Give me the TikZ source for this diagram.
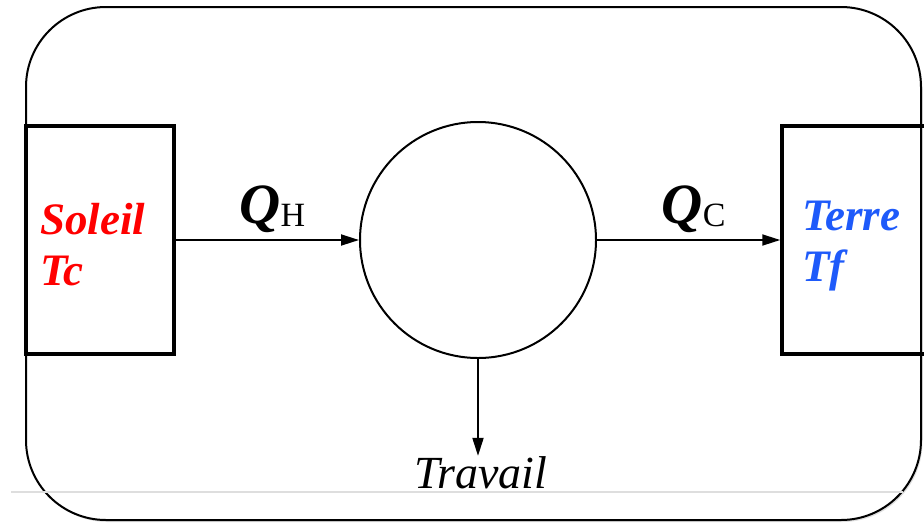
\documentclass[tikz,border=0pt]{standalone}
\usepackage{fontspec}
\setmainfont{Liberation Serif}
\usetikzlibrary{positioning,arrows.meta,shadows}
\definecolor{solred}{RGB}{255,0,0}
\definecolor{terblue}{RGB}{30,90,250}
\definecolor{filet}{RGB}{222,222,222}
\tikzset{
  cadre/.style={line width=2pt,rounded corners=80pt,fill=white,drop shadow={shadow xshift=1.5pt,shadow yshift=-2pt,opacity=0.25}},
  bloc/.style={draw=black,line width=3.5pt,minimum height=228pt,align=left},
  moteur/.style={draw,circle,line width=2pt,minimum size=236pt,inner sep=0pt},
  fleche/.style={line width=1.8pt,-{Triangle[length=18pt,width=11pt]}},
  qlab/.style={anchor=base,yshift=17pt,xshift=5pt,inner sep=0pt},
  blab/.style={font=\fontsize{45}{51}\selectfont\bfseries\itshape},
  tlab/.style={font=\fontsize{46}{50}\selectfont\itshape}
}
\newcommand{\qflux}[1]{{\fontsize{57}{57}\selectfont\bfseries\itshape Q}\raisebox{-3pt}{\fontsize{34}{34}\selectfont #1}}

\begin{document}
\begin{tikzpicture}[x=1pt,y=-1pt]
    \clip (0,0) rectangle (924,523);
    \draw[cadre] (26,7) rectangle (921,520);
    \draw[filet,line width=1.2pt] (11,492) -- (903,492);
    \node[bloc,blab,text=solred,inner sep=14pt,text width=120pt,minimum width=148pt] (soleil) at (100,240) {\rule{0pt}{41pt}Soleil\\Tc};
    \node[bloc,blab,text=terblue,inner sep=20pt,text width=138pt,minimum width=178pt] (terre) at (871,240) {\rule{0pt}{41pt}Terre\\Tf};
    \node[moteur] (moteur) at (478,240) {};
    \node[tlab,anchor=base,inner sep=0pt] (travail) at (481,488) {Travail};
    \draw[fleche] (soleil.east) -- (moteur.west) node[qlab,midway] {\qflux{H}};
    \draw[fleche] (moteur.east) -- (terre.west) node[qlab,midway] {\qflux{C}};
    \draw[fleche] (moteur.south) -- (moteur.south |- travail.north);
\end{tikzpicture}
\end{document}
